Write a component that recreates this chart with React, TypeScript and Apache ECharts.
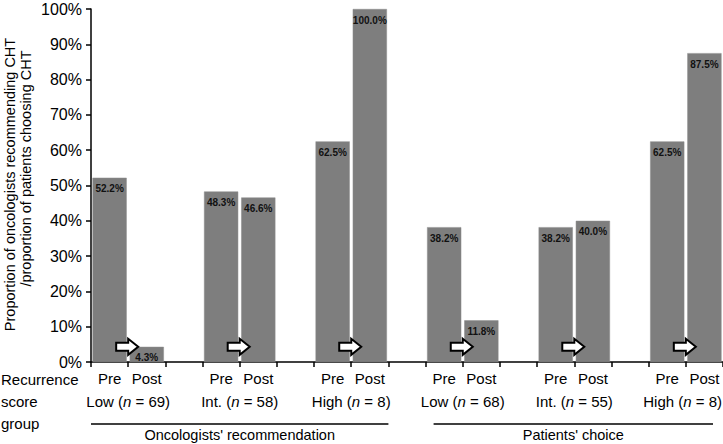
import React, { useEffect, useRef } from "react";
import * as echarts from "echarts";

const groupNames = ["Low", "Int.", "High", "Low", "Int.", "High"];
const groupN = [69, 58, 8, 68, 55, 8];
const preValues = [52.2, 48.3, 62.5, 38.2, 38.2, 62.5];
const postValues = [4.3, 46.6, 100.0, 11.8, 40.0, 87.5];
const sections = ["Oncologists' recommendation", "Patients' choice"];
const sectionGroups = [[0, 1, 2], [3, 4, 5]];
const stageLabels = ["Pre", "Post"];
const yTicks = [0, 10, 20, 30, 40, 50, 60, 70, 80, 90, 100];
const rowTitle = ["Recurrence", "score", "group"];
const yTitle = ["Proportion of oncologists recommending CHT", "/proportion of patients choosing CHT"];

const FONT = "'Liberation Sans', Arial, Helvetica, sans-serif";

export default function App() {
  const ref = useRef<HTMLDivElement>(null);
  useEffect(() => {
    if (!ref.current) return;
    const chart = echarts.init(ref.current, undefined, { renderer: "svg" });

    const cats: string[] = [];
    const vals: (number | null)[] = [];
    groupNames.forEach((g, i) => {
      cats.push(`Pre-${i}`);
      vals.push(preValues[i]);
      cats.push(`Post-${i}`);
      vals.push(postValues[i]);
      if (i < groupNames.length - 1) {
        cats.push(`gap-${i}`);
        vals.push(null);
      }
    });

    chart.setOption({
      animation: false,
      textStyle: { fontFamily: FONT },
      grid: { left: 91, right: 0, top: 9, bottom: 82 },
      xAxis: {
        type: "category",
        data: cats,
        boundaryGap: true,
        axisLine: { lineStyle: { color: "#000", width: 1.5 } },
        axisTick: { show: true, interval: 0, length: 5, lineStyle: { color: "#000", width: 1.5 } },
        axisLabel: {
          interval: 0,
          margin: 9,
          color: "#000",
          fontSize: 15,
          fontFamily: FONT,
          formatter: (v: string) => (v.startsWith("Pre") ? stageLabels[0] : v.startsWith("Post") ? stageLabels[1] : ""),
        },
        splitLine: { show: false },
      },
      yAxis: {
        type: "value",
        min: yTicks[0],
        max: yTicks[yTicks.length - 1],
        interval: 10,
        axisLine: { show: true, lineStyle: { color: "#000", width: 1.5 } },
        axisTick: { show: true, length: 5, lineStyle: { color: "#000", width: 1.5 } },
        axisLabel: { color: "#000", fontSize: 16, margin: 9, fontFamily: FONT, formatter: "{value}%" },
        splitLine: { show: false },
      },
      series: [
        {
          type: "bar",
          data: vals,
          barCategoryGap: "8%",
          itemStyle: { color: "#7e7e7e", borderColor: "#8c8c8c", borderWidth: 0.5 },
          label: {
            show: true,
            position: "insideTop",
            distance: 6,
            color: "#111",
            fontSize: 10,
            fontWeight: "bold",
            fontFamily: FONT,
            formatter: (p: any) => (p.value == null ? "" : Number(p.value).toFixed(1) + "%"),
          },
        },
      ],
    });

    const px = (idx: number, v: number) => chart.convertToPixel({ gridIndex: 0 }, [idx, v]) as number[];
    const axisY = px(0, 0)[1];
    const slotW = px(1, 0)[0] - px(0, 0)[0];
    const chartW = chart.getWidth();
    const graphics: any[] = [];

    groupNames.forEach((g, i) => {
      const preIdx = cats.indexOf(`Pre-${i}`);
      const postIdx = cats.indexOf(`Post-${i}`);
      const bx = (px(preIdx, 0)[0] + px(postIdx, 0)[0]) / 2;
      const cy = px(preIdx, 4.3)[1];
      const cx = bx - 1;
      const pts = [
        [-11, -4], [1, -4], [1, -8], [11, 0], [1, 8], [1, 4], [-11, 4],
      ].map(([x, y]) => [cx + x, cy + y]);
      graphics.push({
        type: "polygon",
        shape: { points: pts },
        style: { fill: "#fff", stroke: "#000", lineWidth: 2 },
        z: 10,
      });
      const estW = 80;
      const fits = bx + estW / 2 <= chartW - 1;
      graphics.push({
        type: "text",
        x: fits ? bx : chartW - 1,
        y: axisY + 39,
        style: {
          text: `{r|${g} (}{i|n}{r| = ${groupN[i]})}`,
          align: fits ? "center" : "right",
          verticalAlign: "middle",
          rich: {
            r: { fontSize: 15, fontFamily: FONT, fill: "#000" },
            i: { fontSize: 15, fontFamily: FONT, fontStyle: "italic", fill: "#000" },
          },
        },
      });
    });

    sections.forEach((s, k) => {
      const gs = sectionGroups[k];
      const first = cats.indexOf(`Pre-${gs[0]}`);
      const last = cats.indexOf(`Post-${gs[gs.length - 1]}`);
      let x1 = px(first, 0)[0] - slotW / 2;
      let x2 = px(last, 0)[0] + slotW / 2;
      if (k === 1) {
        x1 += 8;
        x2 -= 10;
      }
      const ly = axisY + 62;
      graphics.push({
        type: "line",
        shape: { x1, y1: ly, x2, y2: ly },
        style: { stroke: "#000", lineWidth: 1.5 },
      });
      graphics.push({
        type: "text",
        x: (x1 + x2) / 2,
        y: ly + 11,
        style: { text: s, font: `14.5px ${FONT}`, fill: "#000", align: "center", verticalAlign: "middle" },
      });
    });

    rowTitle.forEach((t, j) => {
      graphics.push({
        type: "text",
        x: 1,
        y: axisY + 17 + j * 22,
        style: { text: t, font: `15px ${FONT}`, fill: "#000", align: "left", verticalAlign: "middle" },
      });
    });

    const topY = px(0, 100)[1];
    const midY = (axisY + topY) / 2;
    graphics.push({
      type: "text",
      x: 10,
      y: midY - 1,
      rotation: Math.PI / 2,
      style: { text: yTitle[0], font: `14.5px ${FONT}`, fill: "#000", align: "center", verticalAlign: "middle" },
    });
    graphics.push({
      type: "text",
      x: 26,
      y: midY - 17,
      rotation: Math.PI / 2,
      style: { text: yTitle[1], font: `14.5px ${FONT}`, fill: "#000", align: "center", verticalAlign: "middle" },
    });

    chart.setOption({ graphic: graphics });

    return () => chart.dispose();
  }, []);

  return (
    <div
      ref={ref}
      style={{ position: "fixed", left: 0, top: 0, width: 723, height: 444, background: "#fff" }}
    />
  );
}
